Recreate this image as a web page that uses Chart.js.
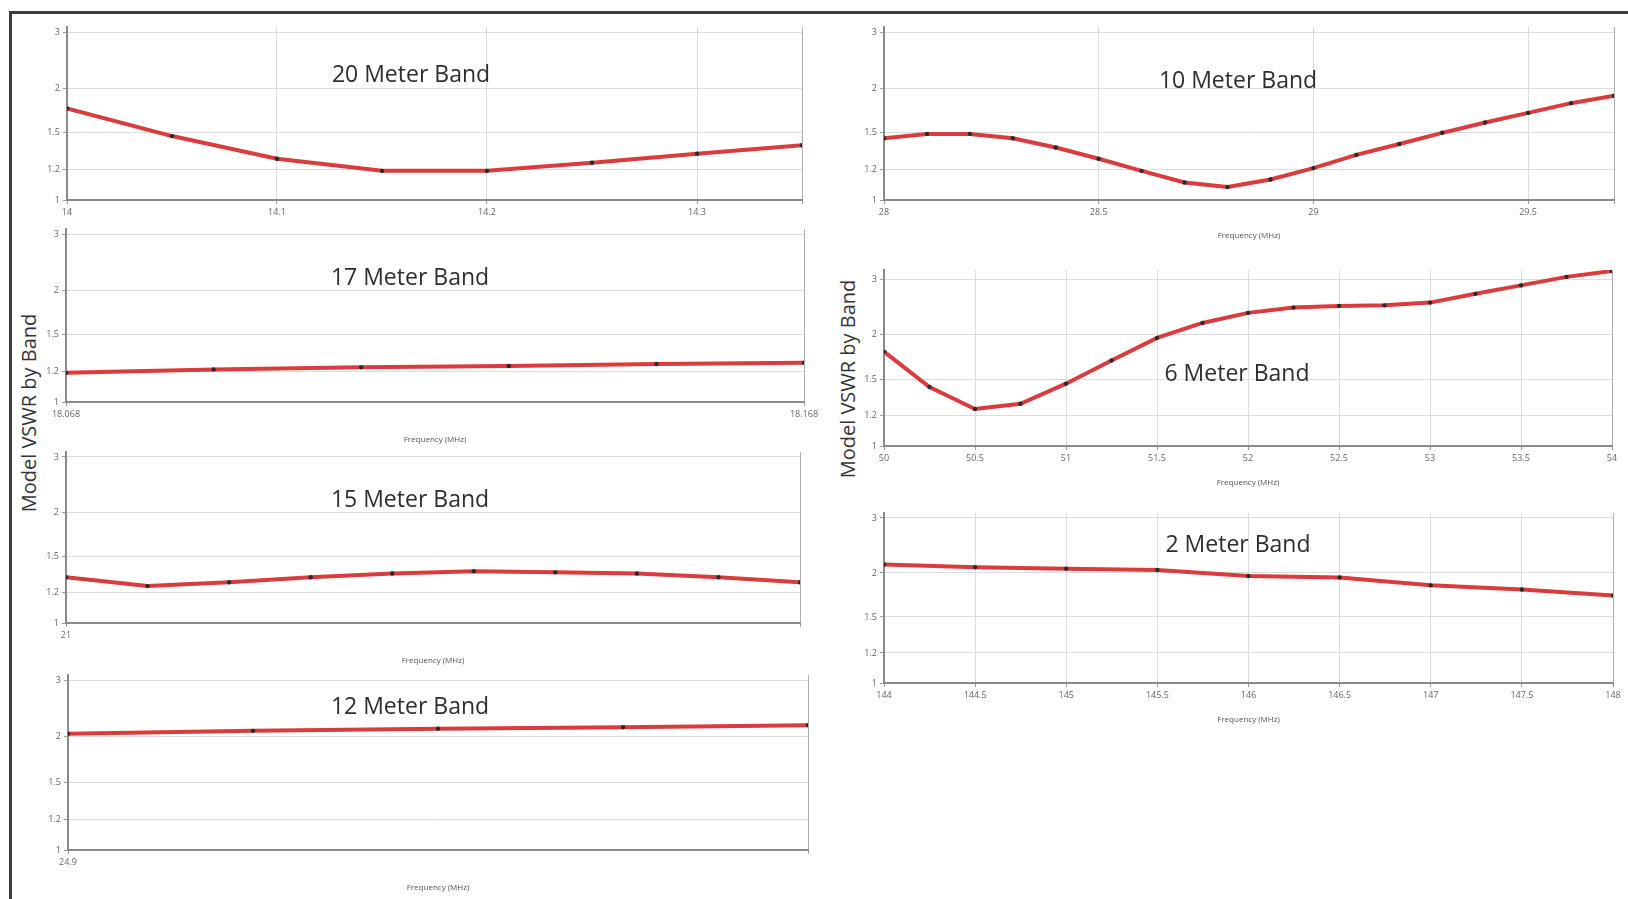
<!DOCTYPE html>
<html>
<head>
<meta charset="utf-8">
<script src="https://cdn.jsdelivr.net/npm/chart.js@4.4.1/dist/chart.umd.min.js"></script>
<style>
  html, body { margin: 0; padding: 0; background: #fff; overflow: hidden; width: 1628px; height: 899px; }
  #frame { position: absolute; left: 9px; top: 11px; width: 1700px; height: 1000px; border: 3px solid #3c3c3c; }
  canvas { position: absolute; }
  .band { position: absolute; font-family: 'Open Sans', sans-serif; font-size: 23px; color: #2e2e2e;
          transform: translate(-50%, -50%); white-space: nowrap; }
  .ylab { position: absolute; font-family: 'Open Sans', sans-serif; font-size: 20px; color: #333;
          transform: translate(-50%, -50%) rotate(-90deg); white-space: nowrap; }
</style>
</head>
<body>
<div id="frame"></div>
<div class="ylab" style="left:28px; top:413px">Model VSWR by Band</div>
<div class="ylab" style="left:847px; top:379px">Model VSWR by Band</div>

<script>
// =============== Data ===============
const yTickValues = [1, 1.2, 1.5, 2, 3];
const yTickLabels = ['1', '1.2', '1.5', '2', '3'];
const xAxisTitle = 'Frequency (MHz)';

// 20 m
const freq20 = [14.0, 14.05, 14.1, 14.15, 14.2, 14.25, 14.3, 14.35];
const vswr20 = [1.75, 1.47, 1.28, 1.19, 1.19, 1.25, 1.32, 1.39];
const xTicks20 = [14, 14.1, 14.2, 14.3, 14.35];
const xLabels20 = ['14', '14.1', '14.2', '14.3', ''];

// 17 m
const freq17 = [18.068, 18.088, 18.108, 18.128, 18.148, 18.168];
const vswr17 = [1.19, 1.215, 1.23, 1.24, 1.255, 1.265];
const xTicks17 = [18.068, 18.168];
const xLabels17 = ['18.068', '18.168'];

// 15 m
const freq15 = [21.0, 21.05, 21.1, 21.15, 21.2, 21.25, 21.3, 21.35, 21.4, 21.45];
const vswr15 = [1.32, 1.25, 1.28, 1.32, 1.35, 1.37, 1.36, 1.35, 1.32, 1.28];
const xTicks15 = [21, 21.45];
const xLabels15 = ['21', ''];

// 12 m
const freq12 = [24.89, 24.915, 24.94, 24.965, 24.99];
const vswr12 = [2.04, 2.08, 2.11, 2.13, 2.16];
const xTicks12 = [24.89, 24.99];
const xLabels12 = ['24.9', ''];

// 10 m
const freq10 = [28.0, 28.1, 28.2, 28.3, 28.4, 28.5, 28.6, 28.7, 28.8, 28.9,
                29.0, 29.1, 29.2, 29.3, 29.4, 29.5, 29.6, 29.7];
const vswr10 = [1.45, 1.49, 1.49, 1.45, 1.37, 1.28, 1.19, 1.11, 1.08, 1.13,
                1.21, 1.31, 1.40, 1.50, 1.60, 1.70, 1.81, 1.90];
const xTicks10 = [28, 28.5, 29, 29.5, 29.7];
const xLabels10 = ['28', '28.5', '29', '29.5', ''];

// 6 m
const freq6 = [50, 50.25, 50.5, 50.75, 51, 51.25, 51.5, 51.75, 52,
               52.25, 52.5, 52.75, 53, 53.25, 53.5, 53.75, 54];
const vswr6 = [1.79, 1.43, 1.25, 1.29, 1.46, 1.69, 1.96, 2.17, 2.33,
               2.42, 2.45, 2.46, 2.51, 2.68, 2.86, 3.06, 3.21];
const xTicks6 = [50, 50.5, 51, 51.5, 52, 52.5, 53, 53.5, 54];
const xLabels6 = ['50', '50.5', '51', '51.5', '52', '52.5', '53', '53.5', '54'];

// 2 m
const freq2 = [144, 144.5, 145, 145.5, 146, 146.5, 147, 147.5, 148];
const vswr2 = [2.12, 2.08, 2.06, 2.04, 1.96, 1.94, 1.84, 1.79, 1.72];
const xTicks2 = [144, 144.5, 145, 145.5, 146, 146.5, 147, 147.5, 148];
const xLabels2 = ['144', '144.5', '145', '145.5', '146', '146.5', '147', '147.5', '148'];

// =============== Helpers ===============
// VSWR axis is linear in reflection coefficient
function toRho(s) {
  return (s - 1) / (s + 1);
}

// =============== Panels (layout) ===============
const panels = [
  { name: '20 Meter Band', freq: freq20, vswr: vswr20, ticks: xTicks20, labels: xLabels20,
    left: 67, right: 802, y3: 32, y1: 200, yMax: 0.515, padR: 20, gap: 0, tx: 411, ty: 73 },
  { name: '17 Meter Band', freq: freq17, vswr: vswr17, ticks: xTicks17, labels: xLabels17,
    left: 66, right: 804, y3: 234, y1: 402, yMax: 0.515, padR: 20, gap: 38, tx: 410, ty: 276 },
  { name: '15 Meter Band', freq: freq15, vswr: vswr15, ticks: xTicks15, labels: xLabels15,
    left: 66, right: 800, y3: 457, y1: 623, yMax: 0.515, padR: 20, gap: 38, tx: 410, ty: 498 },
  { name: '12 Meter Band', freq: freq12, vswr: vswr12, ticks: xTicks12, labels: xLabels12,
    left: 68, right: 808, y3: 680, y1: 850, yMax: 0.515, padR: 20, gap: 38, tx: 410, ty: 705 },
  { name: '10 Meter Band', freq: freq10, vswr: vswr10, ticks: xTicks10, labels: xLabels10,
    left: 884, right: 1614, y3: 32, y1: 200, yMax: 0.515, padR: 12, gap: 36, tx: 1238, ty: 79 },
  { name: '6 Meter Band', freq: freq6, vswr: vswr6, ticks: xTicks6, labels: xLabels6,
    left: 884, right: 1612, y3: 279, y1: 446, yMax: 0.528, padR: 12, gap: 37, tx: 1237, ty: 372 },
  { name: '2 Meter Band', freq: freq2, vswr: vswr2, ticks: xTicks2, labels: xLabels2,
    left: 884, right: 1613, y3: 518, y1: 683, yMax: 0.515, padR: 12, gap: 37, tx: 1238, ty: 543 },
];

const Y_AXIS_W = 30;
const PAD_T = 10;
const tickFont = { family: "'Open Sans', sans-serif", size: 9 };

function buildPanel(p) {
  const pxPerRho = (p.y1 - p.y3) / 0.5;
  const plotTop = Math.round(p.y1 - p.yMax * pxPerRho);
  const xH = p.gap ? p.gap + 5 : 22;

  const canvas = document.createElement('canvas');
  canvas.width = Y_AXIS_W + (p.right - p.left) + p.padR;
  canvas.height = PAD_T + (p.y1 - plotTop) + xH;
  canvas.style.left = (p.left - Y_AXIS_W) + 'px';
  canvas.style.top = (plotTop - PAD_T) + 'px';
  document.body.appendChild(canvas);

  const title = document.createElement('div');
  title.className = 'band';
  title.textContent = p.name;
  title.style.left = p.tx + 'px';
  title.style.top = p.ty + 'px';
  document.body.appendChild(title);

  const xMax = p.freq[p.freq.length - 1];

  new Chart(canvas.getContext('2d'), {
    type: 'line',
    data: {
      datasets: [{
        data: p.freq.map((f, i) => ({ x: f, y: toRho(p.vswr[i]) })),
        borderColor: '#da3b3d',
        borderWidth: 4,
        tension: 0,
        pointRadius: 2.2,
        pointBackgroundColor: '#2a2a2a',
        pointBorderWidth: 0,
      }],
    },
    options: {
      responsive: false,
      animation: false,
      devicePixelRatio: 1,
      layout: { padding: { left: 0, right: p.padR, top: PAD_T, bottom: 0 } },
      plugins: { legend: { display: false }, tooltip: { enabled: false } },
      scales: {
        x: {
          type: 'linear',
          min: p.freq[0],
          max: xMax,
          afterBuildTicks: (scale) => { scale.ticks = p.ticks.map((v) => ({ value: v })); },
          afterFit: (scale) => { scale.height = xH; },
          ticks: {
            autoSkip: false, maxRotation: 0, padding: 3,
            color: '#666', font: tickFont,
            callback: (v, i) => p.labels[i],
          },
          grid: {
            tickLength: 4,
            tickColor: '#999',
            color: (ctx) => (ctx.tick && Math.abs(ctx.tick.value - xMax) < 1e-9 ? '#b0b0b0' : '#dcdcdc'),
          },
          border: { color: '#8a8a8a', width: 2 },
          title: {
            display: p.gap > 0,
            text: xAxisTitle,
            color: '#555',
            padding: 0,
            font: { family: "'Open Sans', sans-serif", size: 8 },
          },
        },
        y: {
          type: 'linear',
          min: 0,
          max: p.yMax,
          afterBuildTicks: (scale) => { scale.ticks = yTickValues.map((v) => ({ value: toRho(v) })); },
          afterFit: (scale) => { scale.width = Y_AXIS_W; },
          ticks: {
            autoSkip: false, padding: 3,
            color: '#666', font: tickFont,
            callback: (v, i) => yTickLabels[i],
          },
          grid: { tickLength: 4, tickColor: '#999', color: '#dcdcdc' },
          border: { color: '#8a8a8a', width: 2 },
        },
      },
    },
  });
}

// =============== Bootstrap ===============
panels.forEach(buildPanel);
</script>
</body>
</html>
